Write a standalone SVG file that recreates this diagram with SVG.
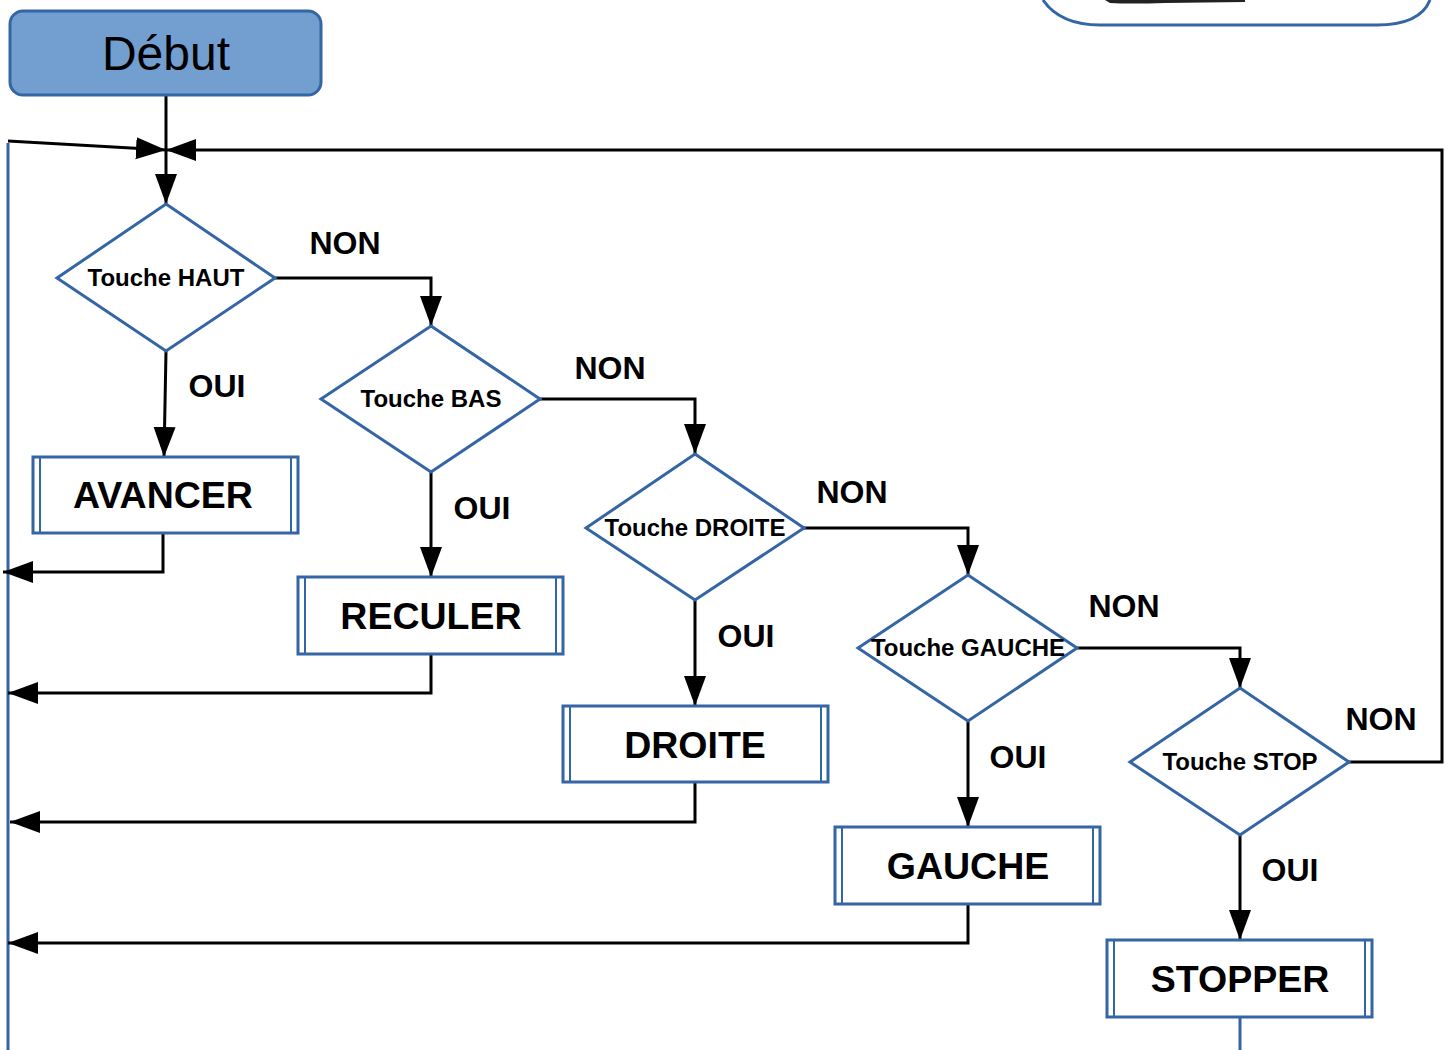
<svg xmlns="http://www.w3.org/2000/svg" width="1450" height="1050" viewBox="0 0 1450 1050">
<style>
.dia{fill:#fff;stroke:#3465a4;stroke-width:3}
.box{fill:#fff;stroke:#3465a4;stroke-width:3}
.in{fill:none;stroke:#3465a4;stroke-width:2}
.c{fill:none;stroke:#000;stroke-width:3}
.dt{font-family:"Liberation Sans",Arial,sans-serif;font-weight:bold;font-size:24px;text-anchor:middle}
.bt{font-family:"Liberation Sans",Arial,sans-serif;font-weight:bold;font-size:37.5px;text-anchor:middle}
.lb{font-family:"Liberation Sans",Arial,sans-serif;font-weight:bold;font-size:32px;text-anchor:middle}
</style>
<defs>
<marker id="a" markerUnits="userSpaceOnUse" markerWidth="32" markerHeight="24" refX="30" refY="11" orient="auto">
<path d="M0,0 L30,11 L0,22 z" fill="#000"/>
</marker>
</defs>
<rect width="1450" height="1050" fill="#fff"/>
<g id="topright">
<path d="M1043,0 Q1060,25 1100,25 L1377,25 Q1420,25 1430,0" fill="none" stroke="#3465a4" stroke-width="3"/>
<path d="M1105,0 L1245,0 L1245,2 L1165,3 Q1130,4 1110,3 z" fill="#222"/>
</g>
<g id="connectors">
<path class="c" d="M166,95 L166,204" marker-end="url(#a)"/>
<path class="c" d="M8,141 L166,150" marker-end="url(#a)"/>
<path class="c" d="M1349,762 L1442,762 L1442,150 L166,150" marker-end="url(#a)"/>
<path d="M8,143 L8,1050" fill="none" stroke="#3465a4" stroke-width="3"/>
<path d="M1240,1017 L1240,1050" fill="none" stroke="#3465a4" stroke-width="3"/>
<path class="c" d="M275,278 L431,278 L431,326" marker-end="url(#a)"/>
<path class="c" d="M166,351 L164,457" marker-end="url(#a)"/>
<path class="c" d="M540,399 L695,399 L695,454" marker-end="url(#a)"/>
<path class="c" d="M431,472 L431,577" marker-end="url(#a)"/>
<path class="c" d="M804,528 L968,528 L968,575" marker-end="url(#a)"/>
<path class="c" d="M695,600 L695,706" marker-end="url(#a)"/>
<path class="c" d="M1077,648 L1240,648 L1240,688" marker-end="url(#a)"/>
<path class="c" d="M968,721 L968,827" marker-end="url(#a)"/>
<path class="c" d="M1240,835 L1240,940" marker-end="url(#a)"/>
<path class="c" d="M163,533 L163,572 L3,572" marker-end="url(#a)"/>
<path class="c" d="M431,654 L431,693 L8,693" marker-end="url(#a)"/>
<path class="c" d="M695,782 L695,822 L10,822" marker-end="url(#a)"/>
<path class="c" d="M968,904 L968,943 L8,943" marker-end="url(#a)"/>
<text class="lb" x="345" y="254">NON</text>
<text class="lb" x="217" y="397">OUI</text>
<text class="lb" x="610" y="379">NON</text>
<text class="lb" x="482" y="519">OUI</text>
<text class="lb" x="852" y="503">NON</text>
<text class="lb" x="746" y="647">OUI</text>
<text class="lb" x="1124" y="617">NON</text>
<text class="lb" x="1018" y="768">OUI</text>
<text class="lb" x="1381" y="730">NON</text>
<text class="lb" x="1290" y="881">OUI</text>
</g>
<g id="debut">
<rect x="10" y="11" width="311" height="84" rx="13" fill="#729fcf" stroke="#3465a4" stroke-width="3"/>
<text x="166" y="70" font-family="Liberation Sans,Arial,sans-serif" font-size="48" text-anchor="middle">Début</text>
</g>
<g id="haut">
<path class="dia" d="M166,204 L275,278 L166,351 L57,278 z"/>
<text class="dt" x="166" y="286">Touche HAUT</text>
</g>
<g id="bas">
<path class="dia" d="M431,326 L540,399 L431,472 L321,399 z"/>
<text class="dt" x="431" y="407">Touche BAS</text>
</g>
<g id="droite_q">
<path class="dia" d="M695,454 L804,528 L695,600 L586,528 z"/>
<text class="dt" x="695" y="536">Touche DROITE</text>
</g>
<g id="gauche_q">
<path class="dia" d="M968,575 L1077,648 L968,721 L858,648 z"/>
<text class="dt" x="968" y="656">Touche GAUCHE</text>
</g>
<g id="stop_q">
<path class="dia" d="M1240,688 L1349,762 L1240,835 L1130,762 z"/>
<text class="dt" x="1240" y="770">Touche STOP</text>
</g>
<g id="avancer">
<rect class="box" x="33" y="457" width="265" height="76"/>
<path class="in" d="M40,457 L40,533 M291,457 L291,533"/>
<text class="bt" x="163" y="508">AVANCER</text>
</g>
<g id="reculer">
<rect class="box" x="298" y="577" width="265" height="77"/>
<path class="in" d="M305,577 L305,654 M556,577 L556,654"/>
<text class="bt" x="431" y="629">RECULER</text>
</g>
<g id="droite">
<rect class="box" x="563" y="706" width="265" height="76"/>
<path class="in" d="M570,706 L570,782 M821,706 L821,782"/>
<text class="bt" x="695" y="758">DROITE</text>
</g>
<g id="gauche">
<rect class="box" x="835" y="827" width="265" height="77"/>
<path class="in" d="M842,827 L842,904 M1093,827 L1093,904"/>
<text class="bt" x="968" y="879">GAUCHE</text>
</g>
<g id="stopper">
<rect class="box" x="1107" y="940" width="265" height="77"/>
<path class="in" d="M1114,940 L1114,1017 M1365,940 L1365,1017"/>
<text class="bt" x="1240" y="992">STOPPER</text>
</g>
</svg>
